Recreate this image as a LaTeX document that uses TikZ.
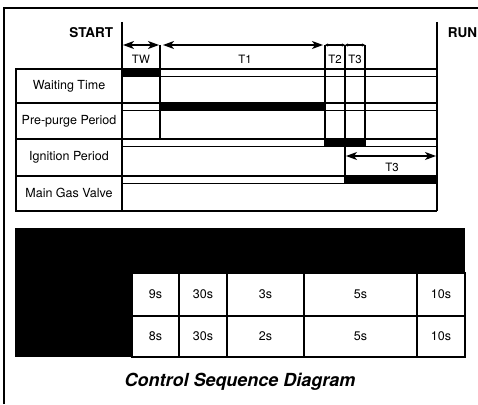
\documentclass[tikz,border=0pt]{standalone}
\usepackage{fontspec}
\setmainfont{TeX Gyre Heros}
\usetikzlibrary{arrows.meta}
\begin{document}
\begin{tikzpicture}[x=1pt, y=-1pt, line width=1.1pt,
    lbl/.style={font=\fontsize{12.5}{14}\selectfont},
    tlbl/.style={font=\fontsize{11.5}{13}\selectfont},
    hdr/.style={font=\bfseries\fontsize{13.5}{15}\selectfont},
    span/.style={{Stealth[length=11pt,width=8pt,inset=3pt]}-{Stealth[length=11pt,width=8pt,inset=3pt]}},
    tiny tips/.style={{Stealth[length=3pt,width=3pt]}-{Stealth[length=3pt,width=3pt]}}]
    \useasboundingbox (0,0) rectangle (478,404);

    % Frame
    \draw[line width=2.6pt] (4,404) -- (4,8) -- (478,8);

    % Start and run lines
    \draw[line width=1.5pt] (122,22) -- (122,211);
    \draw[line width=1.5pt] (437,22) -- (437,211);
    \node[hdr, anchor=east] (start) at (117,33) {START};
    \node[hdr, anchor=west] (run) at (444,33) {RUN};

    % Signal bands
    \fill (122,69) rectangle (160,76.5);
    \fill (160,103) rectangle (325,110.5);
    \fill (325,139) rectangle (365,146.5);
    \fill (345,176) rectangle (437,183.5);
    \foreach \y in {69,103,139,176} {
        \draw (122,\y) -- (437,\y);
        \draw (122,\y+7.5) -- (437,\y+7.5);
    }
    \draw (122,211) -- (437,211);

    % Label column
    \draw (16,69) rectangle (122,211);
    \foreach \y in {103,139,176}
        \draw (16,\y) -- (122,\y);
    \node[lbl] (wait) at (69,86) {Waiting Time};
    \node[lbl] (purge) at (69,121) {Pre-purge Period};
    \node[lbl] (ign) at (69,157) {Ignition Period};
    \node[lbl] (gas) at (69,193) {Main Gas Valve};

    % Timing marks
    \draw (160,45) -- (160,139);
    \draw (325,45) -- (325,146.5);
    \draw (345,45) -- (345,183.5);
    \draw (365,45) -- (365,146.5);
    \draw[span] (123,45) -- (159,45);
    \draw[span] (163,45) -- (323,45);
    \draw[tiny tips] (325,45) -- (345,45);
    \draw[tiny tips] (345,45) -- (365,45);
    \node[tlbl] (tw) at (141,59) {TW};
    \node[tlbl] (t1) at (245,59) {T1};
    \node[tlbl] (t2) at (335,59) {T2};
    \node[tlbl] (t3) at (355,59) {T3};
    \draw[span] (346,156) -- (436,156);
    \node[tlbl] (t3b) at (392,167) {T3};

    % Times table
    \fill (15,228) rectangle (465,357);
    \foreach \xa/\xb/\ta/\tb in {132/179/9s/8s, 179/227/30s/30s, 227/304/3s/2s,
                                304/417/5s/5s, 417/465/10s/10s} {
        \draw[fill=white] (\xa,273) rectangle (\xb,316);
        \draw[fill=white] (\xa,316) rectangle (\xb,357);
        \node[lbl] at ({(\xa+\xb)/2},294.5) {\ta};
        \node[lbl] at ({(\xa+\xb)/2},336.5) {\tb};
    }

    % Title
    \node[font=\bfseries\itshape\fontsize{18}{21}\selectfont] (title) at (240,382) {Control Sequence Diagram};
\end{tikzpicture}
\end{document}
